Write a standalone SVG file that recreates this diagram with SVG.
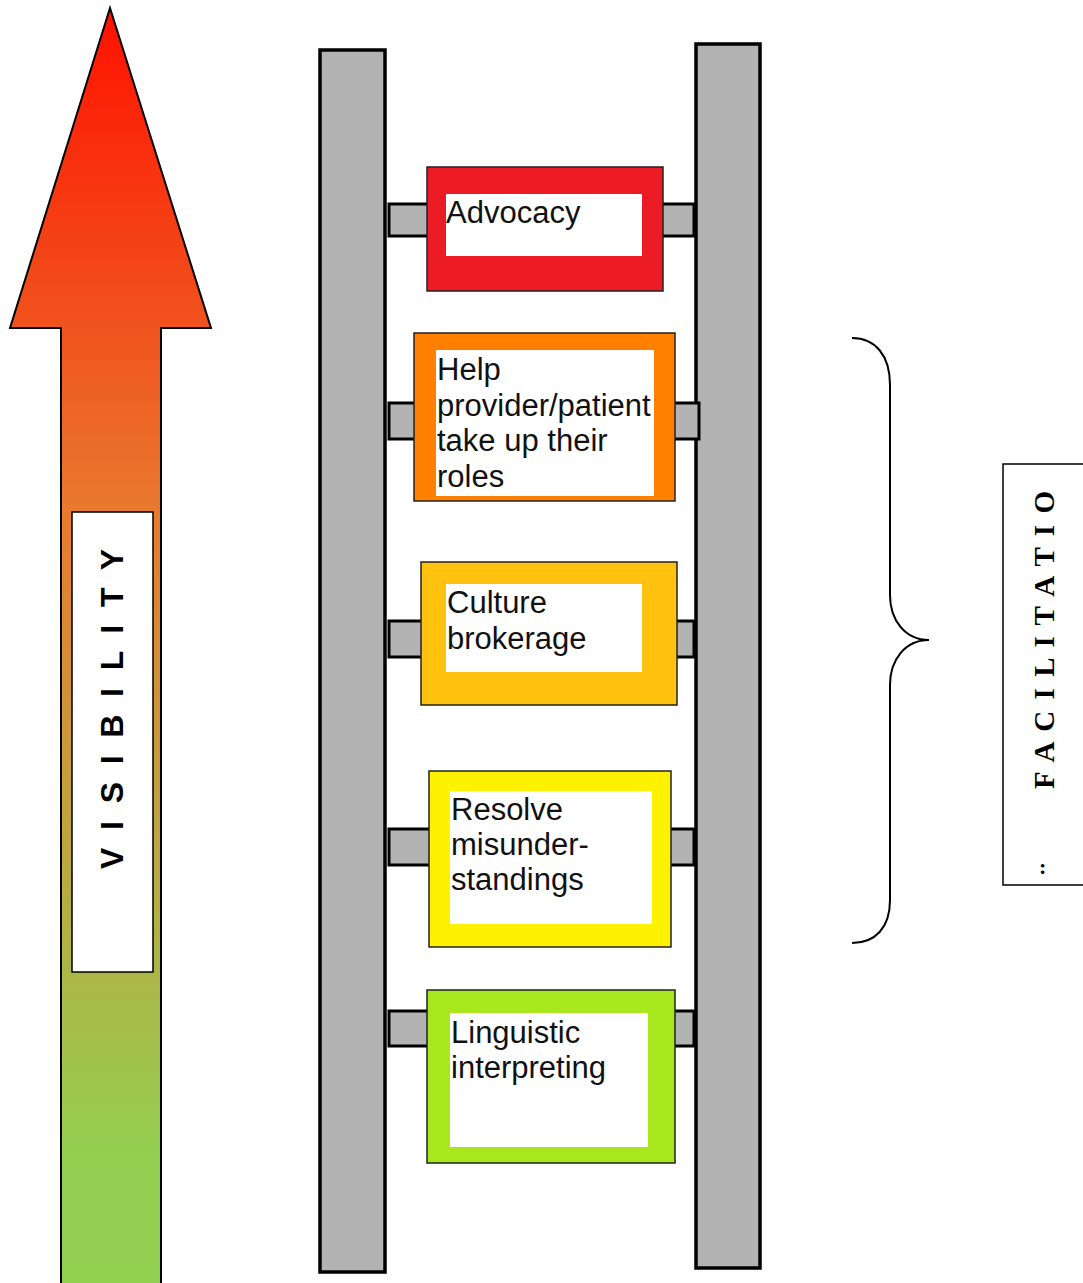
<svg xmlns="http://www.w3.org/2000/svg" width="1083" height="1283" viewBox="0 0 1083 1283">
<style>
.rail{fill:#b3b3b3;stroke:#000;stroke-width:3.5}
.rung{fill:#b3b3b3;stroke:#000;stroke-width:3}
.box{stroke:#222;stroke-width:1.5}
.inner{fill:#fff}
.lbl{font-family:"Liberation Sans",Arial,sans-serif;font-size:31px;fill:#111}
</style>
<defs>
<linearGradient id="vis" gradientUnits="userSpaceOnUse" x1="0" y1="8" x2="0" y2="1283">
<stop offset="0" stop-color="#ff1100"/>
<stop offset="0.4" stop-color="#e87b2f"/>
<stop offset="0.9" stop-color="#94cf50"/>
<stop offset="1" stop-color="#92d050"/>
</linearGradient>
</defs>
<rect width="1083" height="1283" fill="#fff"/>
<g id="visibility-arrow">
<polygon points="110,8 211,328 161,328 161,1290 61,1290 61,328 10,328" fill="url(#vis)" stroke="#000" stroke-width="2"/>
<rect x="72" y="512" width="81" height="460" fill="#fff" stroke="#000" stroke-width="1.5"/>
<text transform="translate(123,709) rotate(-90)" text-anchor="middle" font-family="'Liberation Sans',Arial,sans-serif" font-weight="bold" font-size="32" fill="#000" textLength="320" lengthAdjust="spacing">V I S I B I L I T Y</text>
</g>
<g id="ladder">
<rect class="rail" x="320" y="50" width="65" height="1222"/>
<rect class="rail" x="696" y="44" width="64" height="1224"/>
<rect class="rung" x="389" y="204" width="305" height="32"/>
<rect class="rung" x="389" y="403" width="310" height="36"/>
<rect class="rung" x="389" y="621" width="305" height="36"/>
<rect class="rung" x="389" y="829" width="305" height="36"/>
<rect class="rung" x="389" y="1011" width="305" height="35"/>
</g>
<g id="advocacy">
<rect class="box" x="427" y="167" width="236" height="124" fill="#ed1c24"/>
<rect class="inner" x="446" y="194" width="196" height="62"/>
<text class="lbl" x="446" y="223">Advocacy</text>
</g>
<g id="help-roles">
<rect class="box" x="414" y="333" width="261" height="168" fill="#ff7f00"/>
<rect class="inner" x="436" y="350" width="218" height="146"/>
<text class="lbl"><tspan x="437" y="380">Help</tspan><tspan x="437" y="415.5">provider/patient</tspan><tspan x="437" y="451">take up their</tspan><tspan x="437" y="486.5">roles</tspan></text>
</g>
<g id="culture-brokerage">
<rect class="box" x="421" y="562" width="256" height="143" fill="#ffc20e"/>
<rect class="inner" x="446" y="584" width="196" height="88"/>
<text class="lbl"><tspan x="447" y="613">Culture</tspan><tspan x="447" y="648.5">brokerage</tspan></text>
</g>
<g id="resolve">
<rect class="box" x="429" y="771" width="242" height="176" fill="#fff200"/>
<rect class="inner" x="450" y="791" width="202" height="133"/>
<text class="lbl"><tspan x="451" y="820">Resolve</tspan><tspan x="451" y="855">misunder-</tspan><tspan x="451" y="890">standings</tspan></text>
</g>
<g id="linguistic">
<rect class="box" x="427" y="990" width="248" height="173" fill="#a8e61d"/>
<rect class="inner" x="450" y="1013" width="198" height="134"/>
<text class="lbl"><tspan x="451" y="1042.5">Linguistic</tspan><tspan x="451" y="1077.5">interpreting</tspan></text>
</g>
<g id="connectors">
<path d="M852,338 C875,338 890,355 890,385 L890,595 C890,620 905,640 929,640 C905,640 890,660 890,685 L890,900 C890,928 875,943 852,943" fill="none" stroke="#000" stroke-width="2"/>
</g>
<g id="facilitation">
<path d="M1083,464 L1003,464 L1003,885 L1083,885" fill="#fff" stroke="#000" stroke-width="1.5"/>
<text transform="translate(1054,640) rotate(-90)" text-anchor="middle" font-family="'Liberation Serif','Times New Roman',serif" font-weight="bold" font-size="29" fill="#000" textLength="298" lengthAdjust="spacing">F A C I L I T A T I O</text>
<text x="1039" y="874" font-family="'Liberation Serif','Times New Roman',serif" font-weight="bold" font-size="22" fill="#000">:</text>
</g>
</svg>
